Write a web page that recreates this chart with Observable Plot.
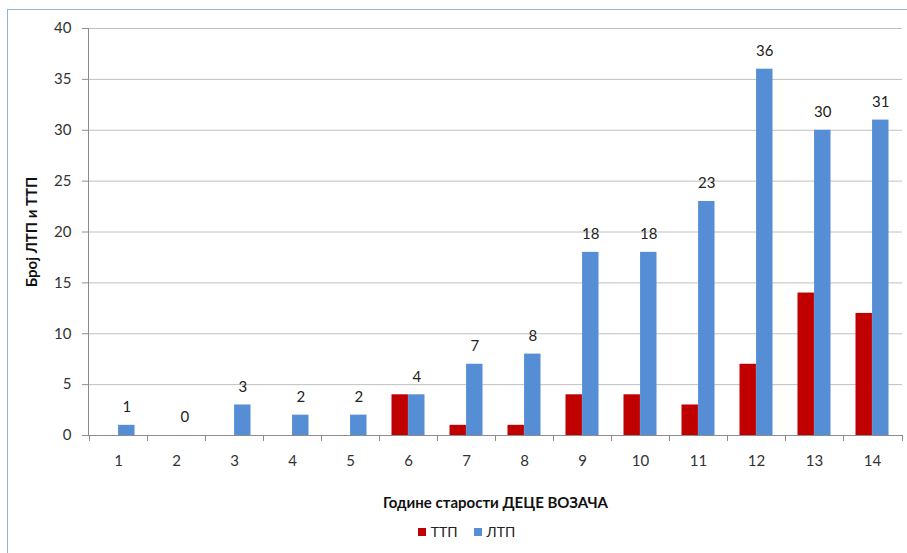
<!DOCTYPE html>
<html>
<head>
<meta charset="utf-8">
<script src="https://cdn.jsdelivr.net/npm/d3@7"></script>
<script src="https://cdn.jsdelivr.net/npm/@observablehq/plot@0.6"></script>
<style>
  html, body { margin: 0; padding: 0; background: #fff; overflow: hidden; width: 907px; height: 553px; }
  #frame { position: absolute; left: 7px; top: 9px; width: 1000px; height: 1000px; border-left: 1.5px solid #95B3D7; border-top: 1.5px solid #95B3D7; }
  #chart { position: absolute; left: 0; top: 0; }
  #legend { position: absolute; left: 0; top: 523px; width: 907px; font-family: Lato, "Open Sans", sans-serif; font-size: 14px; color: #222; display: flex; justify-content: center; gap: 0; padding-left: 26px; box-sizing: border-box; }
  .item { display: flex; align-items: center; margin: 0 8px; }
  .sw { width: 8px; height: 8px; margin-right: 5px; }
</style>
</head>
<body>
<div id="frame"></div>
<div id="chart"></div>
<div id="legend"></div>
<script>
const ages = ["1","2","3","4","5","6","7","8","9","10","11","12","13","14"];
const ttp = [0,0,0,0,0,4,1,1,4,4,3,7,14,12];
const ltp = [1,0,3,2,2,4,7,8,18,18,23,36,30,31];
const series = ["ТТП", "ЛТП"];
const colors = ["#C00000", "#558ED5"];
const yTicks = [0,5,10,15,20,25,30,35,40];

const width = 907, height = 515;
const ml = 88, mr = 5, mt = 28, mb = 80;
const bw = (width - ml - mr) / ages.length;
const barW = bw * 0.285;
const side = bw / 2 - barW;

const rows = ages.map((a, i) => ({age: a, ttp: ttp[i], ltp: ltp[i]}));

function frameLines(index, scales, values, dims) {
  const x = scales.x;
  const g = d3.create("svg:g").attr("stroke", "#8C8C8C").attr("stroke-width", 1);
  const y0 = dims.height - dims.marginBottom;
  const xs = ages.map(a => x(a)).concat([dims.width - dims.marginRight]);
  g.selectAll("line.t").data(xs).join("line").attr("class", "t")
    .attr("x1", d => d + 0.5).attr("x2", d => d + 0.5)
    .attr("y1", y0).attr("y2", y0 + 6);
  g.append("line")
    .attr("x1", dims.marginLeft + 0.5).attr("x2", dims.marginLeft + 0.5)
    .attr("y1", dims.marginTop).attr("y2", y0);
  return g.node();
}

const chart = Plot.plot({
  width, height,
  marginLeft: ml, marginRight: mr, marginTop: mt, marginBottom: mb,
  style: {fontFamily: "Lato, 'Open Sans', sans-serif", fontSize: "15px", color: "#333", background: "transparent"},
  x: {type: "band", domain: ages, padding: 0},
  y: {domain: [0, 40], ticks: yTicks},
  marks: [
    Plot.gridY(yTicks, {stroke: "#C0C0C0", strokeOpacity: 1}),
    Plot.barY(rows, {x: "age", y: "ttp", fill: colors[0], insetLeft: side, insetRight: bw / 2}),
    Plot.barY(rows, {x: "age", y: "ltp", fill: colors[1], insetLeft: bw / 2, insetRight: side}),
    Plot.ruleY([0], {stroke: "#8C8C8C"}),
    Plot.text(rows, {x: "age", y: "ltp", text: d => String(d.ltp), dx: barW / 2, dy: -18, fill: "#222", fontSize: 15}),
    Plot.axisY(yTicks, {tickSize: 6, tickPadding: 11, stroke: "#8C8C8C", fill: "#333", fontSize: 15,
      label: "Број ЛТП и ТТП", labelAnchor: "center", labelArrow: "none", labelOffset: 62}),
    Plot.axisX({tickSize: 0, tickPadding: 20, fill: "#333", fontSize: 15,
      label: "Године старости ДЕЦЕ ВОЗАЧА", labelAnchor: "center", labelArrow: "none", labelOffset: 72}),
    frameLines
  ]
});
d3.select(chart).selectAll("[aria-label='y-axis label'] text, [aria-label='x-axis label'] text, g[aria-label='y-axis label'], g[aria-label='x-axis label']")
  .attr("font-weight", "bold").attr("fill", "#111").attr("font-size", 15);
document.getElementById("chart").appendChild(chart);

const legend = d3.select("#legend");
series.forEach((s, i) => {
  const it = legend.append("div").attr("class", "item");
  it.append("div").attr("class", "sw").style("background", colors[i]);
  it.append("span").text(s);
});
</script>
</body>
</html>
